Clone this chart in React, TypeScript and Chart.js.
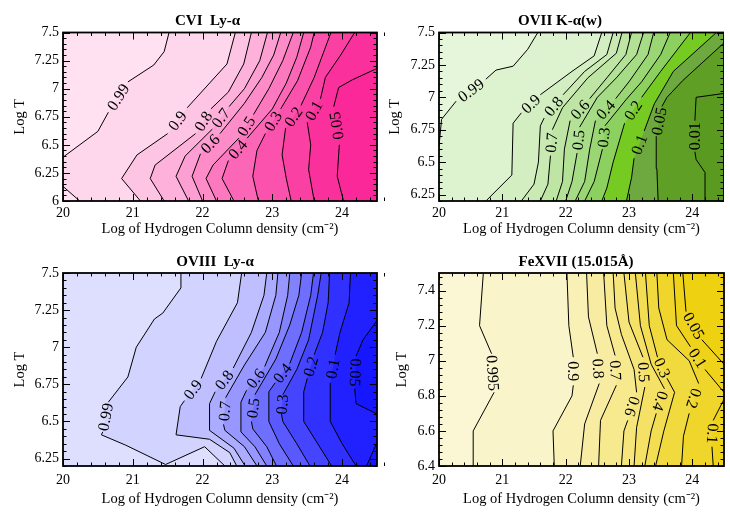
import React, { useEffect, useRef } from 'react';
import { Chart, registerables } from 'chart.js';

Chart.register(...registerables);
Chart.defaults.font.family = "'Liberation Serif', 'Times New Roman', serif";
Chart.defaults.color = '#000';

type Pt = [number, number];

// ---------- shared axis values ----------
const X_RANGE: [number, number] = [20, 24.5];
const X_TICKS = [20, 21, 22, 23, 24];
const X_TICK_LABELS = ['20', '21', '22', '23', '24'];
const X_TITLE = 'Log of Hydrogen Column density (cm\u207B\u00B2)';
const Y_TITLE = 'Log T';

// ---------- CVI Ly-alpha ----------
const CVI_Y_RANGE: [number, number] = [6, 7.5];
const CVI_Y_TICKS = [6, 6.25, 6.5, 6.75, 7, 7.25, 7.5];
const CVI_Y_LABELS = ['6', '6.25', '6.5', '6.75', '7', '7.25', '7.5'];
const CVI_099: Pt[] = [[20, 6.39], [20.5, 6.62], [20.65, 6.79], [20.93, 7.06], [21.3, 7.21], [21.45, 7.33], [21.52, 7.5]];
const CVI_099B: Pt[] = [[20, 6.13], [20.24, 6.0]];
const CVI_09: Pt[] = [[21.11, 6.0], [20.84, 6.2], [21.06, 6.41], [21.5, 6.6], [21.78, 6.83], [22.35, 7.22], [22.47, 7.5]];
const CVI_08: Pt[] = [[21.45, 6.0], [21.25, 6.2], [21.32, 6.32], [21.9, 6.6], [22.12, 6.82], [22.37, 6.97], [22.59, 7.22], [22.7, 7.5]];
const CVI_07: Pt[] = [[21.8, 6.0], [21.62, 6.22], [21.75, 6.4], [22.14, 6.64], [22.38, 6.84], [22.6, 7.0], [22.82, 7.25], [22.93, 7.5]];
const CVI_06: Pt[] = [[22.0, 6.0], [21.85, 6.22], [21.97, 6.42], [22.25, 6.6], [22.6, 6.87], [22.85, 7.1], [23.02, 7.3], [23.12, 7.5]];
const CVI_05: Pt[] = [[22.2, 6.0], [22.05, 6.2], [22.15, 6.32], [22.52, 6.56], [22.73, 6.77], [22.95, 7.0], [23.15, 7.25], [23.3, 7.5]];
const CVI_04: Pt[] = [[22.45, 6.0], [22.28, 6.2], [22.37, 6.36], [22.64, 6.56], [23.0, 6.82], [23.2, 7.05], [23.35, 7.28], [23.45, 7.5]];
const CVI_03: Pt[] = [[22.8, 6.0], [22.72, 6.22], [22.78, 6.45], [22.9, 6.6], [23.12, 6.82], [23.36, 7.07], [23.55, 7.37], [23.6, 7.5]];
const CVI_02: Pt[] = [[23.27, 6.0], [23.2, 6.2], [23.14, 6.41], [23.19, 6.65], [23.41, 6.85], [23.6, 7.1], [23.75, 7.35], [23.84, 7.5]];
const CVI_01: Pt[] = [[23.6, 6.0], [23.52, 6.28], [23.55, 6.5], [23.5, 6.7], [23.69, 6.91], [23.76, 7.1], [23.98, 7.3], [24.18, 7.5]];
const CVI_005: Pt[] = [[24.02, 6.0], [23.93, 6.22], [23.96, 6.5], [23.88, 6.84], [23.95, 7.01], [24.15, 7.08], [24.5, 7.18]];
const CVI_LINES = [CVI_099, CVI_099B, CVI_09, CVI_08, CVI_07, CVI_06, CVI_05, CVI_04, CVI_03, CVI_02, CVI_01, CVI_005];
const CVI_TEXT = ['0.99', '', '0.9', '0.8', '0.7', '0.6', '0.5', '0.4', '0.3', '0.2', '0.1', '0.05'];
const CVI_GAP = [2, -1, 3, 3, 3, 2, 3, 2, 3, 3, 3, 2];
const CVI_BASE = '#FFE1F2';
const CVI_FILLS = ['#FFD7ED', '#FFE1F2', '#FEC4E4', '#FEB2DB', '#FD9FD2', '#FD8CC9', '#FC79BF', '#FC66B6', '#FB53AD', '#FB40A4', '#FA319D', '#FA2898'];

// ---------- OVII K-alpha(w) ----------
const OVII_Y_RANGE: [number, number] = [6.2, 7.5];
const OVII_Y_TICKS = [6.25, 6.5, 6.75, 7, 7.25, 7.5];
const OVII_Y_LABELS = ['6.25', '6.5', '6.75', '7', '7.25', '7.5'];
const OVII_099: Pt[] = [[20, 6.62], [20.04, 6.83], [20.27, 6.97], [20.74, 7.14], [20.9, 7.21], [21.17, 7.24], [21.4, 7.37], [21.56, 7.5]];
const OVII_09: Pt[] = [[20.74, 6.2], [21.15, 6.4], [21.17, 6.8], [21.3, 6.88], [21.6, 7.02], [22.1, 7.2], [22.45, 7.32], [22.57, 7.5]];
const OVII_08: Pt[] = [[21.3, 6.2], [21.5, 6.33], [21.57, 6.5], [21.6, 6.78], [21.66, 6.84], [21.96, 7.02], [22.3, 7.2], [22.65, 7.33], [22.75, 7.5]];
const OVII_07: Pt[] = [[21.6, 6.2], [21.72, 6.33], [21.76, 6.55], [21.79, 6.75], [21.95, 6.92], [22.35, 7.15], [22.8, 7.34], [22.89, 7.5]];
const OVII_06: Pt[] = [[21.85, 6.2], [21.95, 6.35], [21.98, 6.6], [22.07, 6.82], [22.38, 6.99], [22.65, 7.15], [22.95, 7.33], [23.04, 7.5]];
const OVII_05: Pt[] = [[22.0, 6.2], [22.1, 6.35], [22.18, 6.57], [22.22, 6.77], [22.5, 7.0], [22.8, 7.15], [23.12, 7.33], [23.23, 7.5]];
const OVII_04: Pt[] = [[22.15, 6.2], [22.3, 6.35], [22.38, 6.6], [22.47, 6.82], [22.79, 6.99], [23.0, 7.12], [23.3, 7.33], [23.39, 7.5]];
const OVII_03: Pt[] = [[22.3, 6.2], [22.45, 6.35], [22.58, 6.6], [22.62, 6.78], [22.95, 6.98], [23.2, 7.12], [23.5, 7.33], [23.65, 7.5]];
const OVII_02: Pt[] = [[22.57, 6.2], [22.65, 6.3], [22.75, 6.5], [22.93, 6.8], [23.2, 7.0], [23.5, 7.2], [23.97, 7.5]];
const OVII_01: Pt[] = [[22.96, 6.2], [23.04, 6.38], [23.08, 6.53], [23.24, 6.74], [23.4, 6.95], [23.7, 7.2], [24.38, 7.5]];
const OVII_005: Pt[] = [[23.46, 6.2], [23.44, 6.45], [23.43, 6.7], [23.52, 6.93], [23.6, 7.0], [23.85, 7.13], [24.5, 7.42]];
const OVII_001: Pt[] = [[24.2, 6.2], [24.2, 6.42], [24.06, 6.52], [24.04, 6.58], [24.04, 6.82], [24.06, 7.0], [24.5, 7.03]];
const OVII_LINES = [OVII_099, OVII_09, OVII_08, OVII_07, OVII_06, OVII_05, OVII_04, OVII_03, OVII_02, OVII_01, OVII_005, OVII_001];
const OVII_TEXT = ['0.99', '0.9', '0.8', '0.7', '0.6', '0.5', '0.4', '0.3', '0.2', '0.1', '0.05', '0.01'];
const OVII_GAP = [2, 3, 4, 2, 3, 2, 3, 2, 3, 2, 2, 3];
const OVII_BASE = '#E6F6DA';
const OVII_FILLS = ['#DDF2CE', '#D3EEC1', '#C9EAB3', '#BEE5A4', '#B3E196', '#A7DC86', '#9AD774', '#8CD160', '#76CB22', '#6DA93E', '#5F9F26', '#5A9A20'];

// ---------- OVIII Ly-alpha ----------
const OVIII_Y_RANGE: [number, number] = [6.2, 7.5];
const OVIII_Y_TICKS = [6.25, 6.5, 6.75, 7, 7.25, 7.5];
const OVIII_Y_LABELS = ['6.25', '6.5', '6.75', '7', '7.25', '7.5'];
const OVIII_099: Pt[] = [[22.32, 6.2], [22.03, 6.33], [21.47, 6.21], [20.9, 6.34], [20.55, 6.41], [20.57, 6.43], [20.65, 6.63], [20.93, 6.8], [21.05, 7.0], [21.31, 7.19], [21.43, 7.23], [21.69, 7.4], [21.69, 7.5]];
const OVIII_09: Pt[] = [[22.49, 6.2], [22.39, 6.29], [22.1, 6.38], [21.62, 6.41], [21.68, 6.6], [21.74, 6.64], [21.98, 6.79], [22.2, 7.04], [22.5, 7.3], [22.56, 7.5]];
const OVIII_08: Pt[] = [[22.61, 6.2], [22.45, 6.32], [22.1, 6.44], [22.1, 6.62], [22.18, 6.7], [22.44, 6.86], [22.7, 7.1], [22.88, 7.35], [22.92, 7.5]];
const OVIII_07: Pt[] = [[22.78, 6.2], [22.6, 6.33], [22.32, 6.44], [22.3, 6.48], [22.33, 6.66], [22.6, 6.88], [22.9, 7.1], [23.05, 7.35], [23.08, 7.5]];
const OVIII_06: Pt[] = [[22.92, 6.2], [22.75, 6.33], [22.55, 6.43], [22.55, 6.63], [22.63, 6.71], [22.89, 6.87], [23.1, 7.1], [23.22, 7.35], [23.25, 7.5]];
const OVIII_05: Pt[] = [[23.06, 6.2], [22.92, 6.33], [22.72, 6.45], [22.7, 6.5], [22.75, 6.68], [23.05, 6.92], [23.25, 7.15], [23.38, 7.35], [23.42, 7.5]];
const OVIII_04: Pt[] = [[23.3, 6.2], [23.1, 6.35], [22.95, 6.5], [22.95, 6.7], [23.04, 6.76], [23.25, 6.89], [23.42, 7.1], [23.55, 7.35], [23.59, 7.5]];
const OVIII_03: Pt[] = [[23.54, 6.2], [23.35, 6.35], [23.15, 6.5], [23.13, 6.55], [23.15, 6.68], [23.35, 6.85], [23.52, 7.05], [23.65, 7.35], [23.7, 7.5]];
const OVIII_02: Pt[] = [[23.85, 6.2], [23.65, 6.35], [23.45, 6.5], [23.45, 6.7], [23.5, 6.79], [23.6, 6.95], [23.72, 7.1], [23.8, 7.3], [23.82, 7.5]];
const OVIII_01: Pt[] = [[24.2, 6.2], [24.0, 6.35], [23.83, 6.5], [23.83, 6.76], [23.9, 6.95], [23.97, 7.1], [24.1, 7.3], [24.12, 7.5]];
const OVIII_005: Pt[] = [[24.5, 6.55], [24.2, 6.62], [24.18, 6.72], [24.2, 6.94], [24.3, 7.05], [24.5, 7.18]];
const OVIII_005B: Pt[] = [[24.35, 6.2], [24.5, 6.36]];
const OVIII_LINES = [OVIII_099, OVIII_09, OVIII_08, OVIII_07, OVIII_06, OVIII_05, OVIII_04, OVIII_03, OVIII_02, OVIII_01, OVIII_005, OVIII_005B];
const OVIII_TEXT = ['0.99', '0.9', '0.8', '0.7', '0.6', '0.5', '0.4', '0.3', '0.2', '0.1', '0.05', ''];
const OVIII_GAP = [5, 5, 4, 3, 4, 3, 4, 3, 4, 3, 2, -1];
const OVIII_FLIP = [false, false, false, false, false, false, false, false, false, false, true, false];
const OVIII_BASE = '#DEDEFF';
const OVIII_FILLS = ['#D3D3FF', '#BFBFFF', '#ABABFF', '#9797FF', '#8282FF', '#6E6EFF', '#5959FF', '#4545FF', '#3131FF', '#2121FF', '#1717FF', '#1717FF'];

// ---------- FeXVII (15.015 A) ----------
const FE_Y_RANGE: [number, number] = [6.4, 7.5];
const FE_Y_TICKS = [6.4, 6.6, 6.8, 7, 7.2, 7.4];
const FE_Y_LABELS = ['6.4', '6.6', '6.8', '7', '7.2', '7.4'];
const FE_0995: Pt[] = [[20.54, 6.4], [20.54, 6.6], [20.87, 6.82], [20.83, 7.04], [20.64, 7.2], [20.7, 7.5]];
const FE_09: Pt[] = [[21.82, 6.4], [21.8, 6.6], [22.1, 6.8], [22.12, 6.86], [22.12, 7.02], [22.05, 7.2], [22.02, 7.5]];
const FE_08: Pt[] = [[22.23, 6.4], [22.3, 6.64], [22.53, 6.87], [22.5, 7.04], [22.36, 7.25], [22.33, 7.5]];
const FE_07: Pt[] = [[22.52, 6.4], [22.55, 6.66], [22.8, 6.86], [22.78, 7.03], [22.65, 7.2], [22.6, 7.5]];
const FE_06: Pt[] = [[22.88, 6.4], [22.92, 6.6], [22.98, 6.66], [23.12, 6.82], [23.08, 6.95], [22.88, 7.15], [22.78, 7.3], [22.75, 7.5]];
const FE_05: Pt[] = [[23.08, 6.4], [23.12, 6.62], [23.25, 6.85], [23.22, 7.02], [23.0, 7.22], [22.92, 7.5]];
const FE_04: Pt[] = [[23.25, 6.4], [23.35, 6.6], [23.43, 6.7], [23.56, 6.84], [23.35, 6.98], [23.18, 7.2], [23.1, 7.5]];
const FE_03: Pt[] = [[23.42, 6.4], [23.55, 6.6], [23.72, 6.82], [23.6, 6.9], [23.45, 7.02], [23.32, 7.2], [23.26, 7.5]];
const FE_02: Pt[] = [[23.83, 6.4], [23.86, 6.57], [23.95, 6.7], [24.1, 6.87], [23.95, 7.0], [23.6, 7.12], [23.47, 7.3], [23.44, 7.5]];
const FE_01U: Pt[] = [[24.5, 6.82], [24.2, 6.95], [23.97, 7.08], [23.75, 7.2], [23.7, 7.5]];
const FE_01L: Pt[] = [[24.33, 6.4], [24.31, 6.51], [24.33, 6.66], [24.5, 6.78]];
const FE_005: Pt[] = [[24.5, 6.98], [24.15, 7.12], [23.9, 7.28], [23.85, 7.5]];
const FE_LINES = [FE_0995, FE_09, FE_08, FE_07, FE_06, FE_05, FE_04, FE_03, FE_02, FE_01U, FE_01L, FE_005];
const FE_TEXT = ['0.995', '0.9', '0.8', '0.7', '0.6', '0.5', '0.4', '0.3', '0.2', '0.1', '0.1', '0.05'];
const FE_GAP = [2, 3, 2, 2, 2, 2, 2, 3, 2, 1, 1, 1];
const FE_FLIP = FE_GAP.map(() => true);
const FE_BASE = '#FBF6D4';
const FE_FILLS = ['#FAF4CA', '#F9F0B6', '#F8ECA2', '#F6E98E', '#F5E57A', '#F4E166', '#F3DD52', '#F1DA3E', '#F0D62A', '#EFD31B', '#EFD31B', '#EED111'];

// ---------- layout of the four panels (page pixels) ----------
interface Geom {
  left: number; top: number; width: number; height: number;
  padLeft: number; yW: number; rW: number; xH: number;
  titleTop: number; titleBottom: number; yTitlePad: number; tickPad: number; xTitlePad: number;
}
interface PanelDef {
  title: string;
  yRange: [number, number];
  yTicks: number[]; yLabels: string[]; yMinor: number;
  lines: Pt[][]; texts: string[]; gaps: number[]; flips: boolean[];
  base: string; fills: string[];
  geom: Geom;
}

const PANELS: PanelDef[] = [
  {
    title: 'CVI  Ly-\u03B1', yRange: CVI_Y_RANGE, yTicks: CVI_Y_TICKS, yLabels: CVI_Y_LABELS, yMinor: 0.05,
    lines: CVI_LINES, texts: CVI_TEXT, gaps: CVI_GAP, flips: CVI_GAP.map(() => false), base: CVI_BASE, fills: CVI_FILLS,
    geom: { left: 0, top: 0, width: 415, height: 245, padLeft: 0, yW: 63, rW: 38, xH: 44, titleTop: 12, titleBottom: 2.5, yTitlePad: 11.6, tickPad: 4, xTitlePad: 7.6 },
  },
  {
    title: 'OVII K-\u03B1(w)', yRange: OVII_Y_RANGE, yTicks: OVII_Y_TICKS, yLabels: OVII_Y_LABELS, yMinor: 0.05,
    lines: OVII_LINES, texts: OVII_TEXT, gaps: OVII_GAP, flips: OVII_GAP.map(() => false), base: OVII_BASE, fills: OVII_FILLS,
    geom: { left: 380, top: 0, width: 344, height: 245, padLeft: 16, yW: 43, rW: 0, xH: 44, titleTop: 12, titleBottom: 2.5, yTitlePad: -9.4, tickPad: 4, xTitlePad: 7.6 },
  },
  {
    title: 'OVIII  Ly-\u03B1', yRange: OVIII_Y_RANGE, yTicks: OVIII_Y_TICKS, yLabels: OVIII_Y_LABELS, yMinor: 0.05,
    lines: OVIII_LINES, texts: OVIII_TEXT, gaps: OVIII_GAP, flips: OVIII_FLIP, base: OVIII_BASE, fills: OVIII_FILLS,
    geom: { left: 0, top: 245, width: 430, height: 272, padLeft: 0, yW: 63, rW: 53, xH: 51, titleTop: 8, titleBottom: 2, yTitlePad: 11.6, tickPad: 5.6, xTitlePad: 9.6 },
  },
  {
    title: 'FeXVII (15.015\u00C5)', yRange: FE_Y_RANGE, yTicks: FE_Y_TICKS, yLabels: FE_Y_LABELS, yMinor: 0.04,
    lines: FE_LINES, texts: FE_TEXT, gaps: FE_GAP, flips: FE_FLIP, base: FE_BASE, fills: FE_FILLS,
    geom: { left: 380, top: 245, width: 376, height: 272, padLeft: 16, yW: 43, rW: 32, xH: 51, titleTop: 8, titleBottom: 2, yTitlePad: -2.4, tickPad: 5.6, xTitlePad: 9.6 },
  },
];

// parameter along the plot border, clockwise on screen starting at the top-left corner
function edgeParam(p: Pt, xr: [number, number], yr: [number, number]): number {
  const [x, y] = p;
  const eps = 1e-6;
  const w = xr[1] - xr[0];
  const h = yr[1] - yr[0];
  if (Math.abs(y - yr[1]) < eps) return (x - xr[0]) / w;
  if (Math.abs(x - xr[1]) < eps) return 1 + (yr[1] - y) / h;
  if (Math.abs(y - yr[0]) < eps) return 2 + (xr[1] - x) / w;
  return 3 + (y - yr[0]) / h;
}

// contour line + the plot-border corners between its end and its start (clockwise)
function closeRegion(line: Pt[], xr: [number, number], yr: [number, number]): Pt[] {
  const corners: Pt[] = [[xr[0], yr[1]], [xr[1], yr[1]], [xr[1], yr[0]], [xr[0], yr[0]]];
  const tEnd = edgeParam(line[line.length - 1], xr, yr);
  let tStart = edgeParam(line[0], xr, yr);
  if (tStart <= tEnd) tStart += 4;
  const out = line.slice();
  for (let c = Math.floor(tEnd) + 1; c < tStart; c++) out.push(corners[c % 4]);
  return out;
}

const toXY = (p: Pt) => ({ x: p[0], y: p[1] });

function minorValues(lo: number, hi: number, step: number): number[] {
  const out: number[] = [];
  const n = Math.round((hi - lo) / step);
  for (let i = 0; i <= n; i++) out.push(lo + i * step);
  return out;
}

const decoPlugin = {
  id: 'contourDeco',
  afterDatasetsDraw(chart: any, _args: any, opts: any) {
    const ctx = chart.ctx as CanvasRenderingContext2D;
    const { left, right, top, bottom } = chart.chartArea;
    // contour labels
    chart.data.datasets.forEach((ds: any, i: number) => {
      const lab = ds.contourLabel;
      if (!lab) return;
      const pts = chart.getDatasetMeta(i).data;
      const a = pts[lab.gap];
      const b = pts[lab.gap + 1];
      if (!a || !b) return;
      let ang = Math.atan2(b.y - a.y, b.x - a.x);
      if (lab.flip) ang += Math.PI;
      ctx.save();
      ctx.translate((a.x + b.x) / 2, (a.y + b.y) / 2);
      ctx.rotate(ang);
      ctx.font = "16px 'Liberation Serif', serif";
      ctx.textAlign = 'center';
      ctx.textBaseline = 'middle';
      ctx.fillStyle = '#000';
      ctx.fillText(lab.text, 0, 1);
      ctx.restore();
    });
    // inward tick marks on all four sides + frame
    const xs = chart.scales.x;
    const ys = chart.scales.y;
    ctx.save();
    ctx.strokeStyle = '#000';
    ctx.lineWidth = 1;
    ctx.beginPath();
    const xTick = (v: number, len: number) => {
      const px = Math.round(xs.getPixelForValue(v)) + 0.5;
      ctx.moveTo(px, bottom); ctx.lineTo(px, bottom - len);
      ctx.moveTo(px, top); ctx.lineTo(px, top + len);
    };
    const yTick = (v: number, len: number) => {
      const py = Math.round(ys.getPixelForValue(v)) + 0.5;
      ctx.moveTo(left, py); ctx.lineTo(left + len, py);
      ctx.moveTo(right, py); ctx.lineTo(right - len, py);
    };
    minorValues(X_RANGE[0], X_RANGE[1], 0.2).forEach((v) => xTick(v, 3.5));
    X_TICKS.forEach((v) => xTick(v, 7));
    minorValues(opts.yLo, opts.yHi, opts.yMinor).forEach((v) => yTick(v, 3.5));
    opts.yTicks.forEach((v: number) => yTick(v, 7));
    ctx.stroke();
    ctx.lineWidth = 1.8;
    ctx.strokeRect(left, top, right - left, bottom - top);
    ctx.restore();
  },
};

function buildConfig(def: PanelDef): any {
  const xr = X_RANGE;
  const yr = def.yRange;
  const g = def.geom;
  const datasets: any[] = [];
  const rect: Pt[] = [[xr[0], yr[0]], [xr[0], yr[1]], [xr[1], yr[1]], [xr[1], yr[0]]];
  datasets.push({
    type: 'line', data: rect.map(toXY), fill: 'shape', backgroundColor: def.base,
    borderWidth: 0, borderColor: 'rgba(0,0,0,0)', pointRadius: 0, order: 0,
  });
  def.lines.forEach((ln, k) => {
    datasets.push({
      type: 'line', data: closeRegion(ln, xr, yr).map(toXY), fill: 'shape', backgroundColor: def.fills[k],
      borderWidth: 0, borderColor: 'rgba(0,0,0,0)', pointRadius: 0, order: -(k + 1),
    });
  });
  def.lines.forEach((ln, k) => {
    const gap = def.gaps[k];
    datasets.push({
      type: 'line', data: ln.map(toXY), fill: false, borderColor: '#000', borderWidth: 1,
      pointRadius: 0, order: -1000 - k, tension: 0,
      segment: { borderColor: (c: any) => (c.p0DataIndex === gap ? 'rgba(0,0,0,0)' : '#000') },
      contourLabel: gap >= 0 && def.texts[k] ? { text: def.texts[k], gap, flip: def.flips[k] } : null,
    });
  });

  const tickFont = { size: 14, family: "'Liberation Serif', serif" };
  const titleFont = { size: 14.5, family: "'Liberation Serif', serif" };
  return {
    type: 'line',
    data: { datasets },
    options: {
      animation: false,
      responsive: false,
      maintainAspectRatio: false,
      events: [],
      layout: { padding: { left: g.padLeft, right: 0, top: 0, bottom: 0 } },
      plugins: {
        legend: { display: false },
        tooltip: { enabled: false },
        title: {
          display: true, text: def.title, color: '#000',
          font: { size: 15, weight: 'bold', family: "'Liberation Serif', serif" },
          padding: { top: g.titleTop, bottom: g.titleBottom },
        },
        contourDeco: { yTicks: def.yTicks, yLo: yr[0], yHi: yr[1], yMinor: def.yMinor },
      },
      scales: {
        x: {
          type: 'linear', min: xr[0], max: xr[1], position: 'bottom',
          grid: { display: false, drawTicks: false }, border: { display: false },
          afterBuildTicks: (s: any) => { s.ticks = X_TICKS.map((v) => ({ value: v })); },
          afterFit: (s: any) => { s.height = g.xH; },
          ticks: { font: tickFont, color: '#000', padding: g.tickPad, maxRotation: 0, autoSkip: false, callback: (_v: any, i: number) => X_TICK_LABELS[i] },
          title: { display: true, text: X_TITLE, color: '#000', font: titleFont, padding: { top: 0, bottom: g.xTitlePad } },
        },
        y: {
          type: 'linear', min: yr[0], max: yr[1], position: 'left',
          grid: { display: false, drawTicks: false }, border: { display: false },
          afterBuildTicks: (s: any) => { s.ticks = def.yTicks.map((v) => ({ value: v })); },
          afterFit: (s: any) => { s.width = g.yW; },
          ticks: { font: tickFont, color: '#000', padding: 4, autoSkip: false, callback: (_v: any, i: number) => def.yLabels[i] },
          title: { display: true, text: Y_TITLE, color: '#000', font: titleFont, padding: { top: g.yTitlePad, bottom: 0 } },
        },
        yR: {
          type: 'linear', position: 'right', display: true,
          grid: { display: false, drawTicks: false }, border: { display: false },
          ticks: { display: false },
          afterFit: (s: any) => { s.width = g.rW; },
        },
      },
    },
    plugins: [decoPlugin],
  };
}

function Panel({ def }: { def: PanelDef }) {
  const ref = useRef<HTMLCanvasElement | null>(null);
  useEffect(() => {
    if (!ref.current) return;
    const chart = new Chart(ref.current, buildConfig(def));
    return () => chart.destroy();
  }, [def]);
  const g = def.geom;
  return (
    <canvas
      ref={ref}
      width={g.width}
      height={g.height}
      style={{ position: 'absolute', left: g.left, top: g.top, width: g.width, height: g.height }}
    />
  );
}

export default function App() {
  return (
    <div style={{ position: 'absolute', left: 0, top: 0, width: 730, height: 517, overflow: 'hidden', background: '#fff' }}>
      {PANELS.map((p, i) => (
        <Panel key={i} def={p} />
      ))}
    </div>
  );
}
